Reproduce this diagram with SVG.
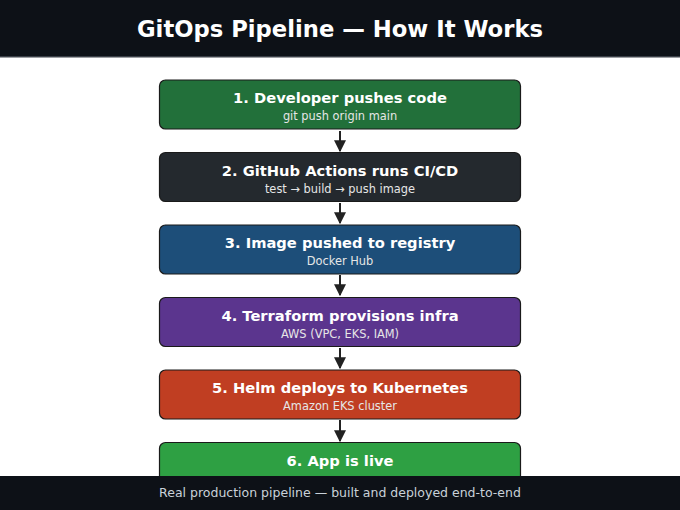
<svg xmlns="http://www.w3.org/2000/svg" width="680" height="510" viewBox="0 0 680 510">
<defs>
<style>
.bar{fill:#0d1117}
.box{stroke:#1a1a1a;stroke-width:1.2}
.t{font-family:"DejaVu Sans",sans-serif;font-weight:bold;font-size:14.7px;fill:#ffffff;text-anchor:middle}
.s{font-family:"DejaVu Sans",sans-serif;font-size:11.4px;fill:#e6e6e6;text-anchor:middle}
.conn line{stroke:#222222;stroke-width:2}
</style>
<marker id="ah" viewBox="0 0 10 10" refX="9" refY="5" markerWidth="6" markerHeight="6" orient="auto" markerUnits="strokeWidth">
<path d="M0,0 L10,5 L0,10 z" fill="#222222"/>
</marker>
</defs>
<rect width="680" height="510" fill="#ffffff"/>
<g id="header">
<rect class="bar" x="0" y="0" width="680" height="56"/>
<rect x="0" y="56" width="680" height="1.5" fill="#3a3f47"/>
<text x="340" y="37" font-family="DejaVu Sans, sans-serif" font-weight="bold" font-size="22.7" fill="#ffffff" text-anchor="middle">GitOps Pipeline — How It Works</text>
</g>
<g id="connectors" class="conn">
<line x1="340" y1="131" x2="340" y2="151" marker-end="url(#ah)"/>
<line x1="340" y1="203" x2="340" y2="223" marker-end="url(#ah)"/>
<line x1="340" y1="275" x2="340" y2="295" marker-end="url(#ah)"/>
<line x1="340" y1="348" x2="340" y2="368" marker-end="url(#ah)"/>
<line x1="340" y1="420" x2="340" y2="441" marker-end="url(#ah)"/>
</g>
<g id="step1">
<rect class="box" x="159.5" y="80" width="361" height="49" rx="6" fill="#22703a"/>
<text class="t" x="340" y="103">1. Developer pushes code</text>
<text class="s" x="340" y="120">git push origin main</text>
</g>
<g id="step2">
<rect class="box" x="159.5" y="152.5" width="361" height="49" rx="6" fill="#24292e"/>
<text class="t" x="340" y="175.5">2. GitHub Actions runs CI/CD</text>
<text class="s" x="340" y="192.5">test → build → push image</text>
</g>
<g id="step3">
<rect class="box" x="159.5" y="225" width="361" height="49" rx="6" fill="#1d4e79"/>
<text class="t" x="340" y="248">3. Image pushed to registry</text>
<text class="s" x="340" y="265">Docker Hub</text>
</g>
<g id="step4">
<rect class="box" x="159.5" y="297.5" width="361" height="49" rx="6" fill="#5b358e"/>
<text class="t" x="340" y="320.5">4. Terraform provisions infra</text>
<text class="s" x="340" y="337.5">AWS (VPC, EKS, IAM)</text>
</g>
<g id="step5">
<rect class="box" x="159.5" y="370" width="361" height="49" rx="6" fill="#c03e22"/>
<text class="t" x="340" y="393">5. Helm deploys to Kubernetes</text>
<text class="s" x="340" y="410">Amazon EKS cluster</text>
</g>
<g id="step6">
<rect class="box" x="159.5" y="442.5" width="361" height="49" rx="6" fill="#2ea043"/>
<text class="t" x="340" y="465.5">6. App is live</text>
</g>
<g id="footer">
<rect class="bar" x="0" y="476" width="680" height="34"/>
<text x="340" y="497" font-family="DejaVu Sans, sans-serif" font-size="12.5" fill="#c9d1d9" text-anchor="middle">Real production pipeline — built and deployed end-to-end</text>
</g>
</svg>
